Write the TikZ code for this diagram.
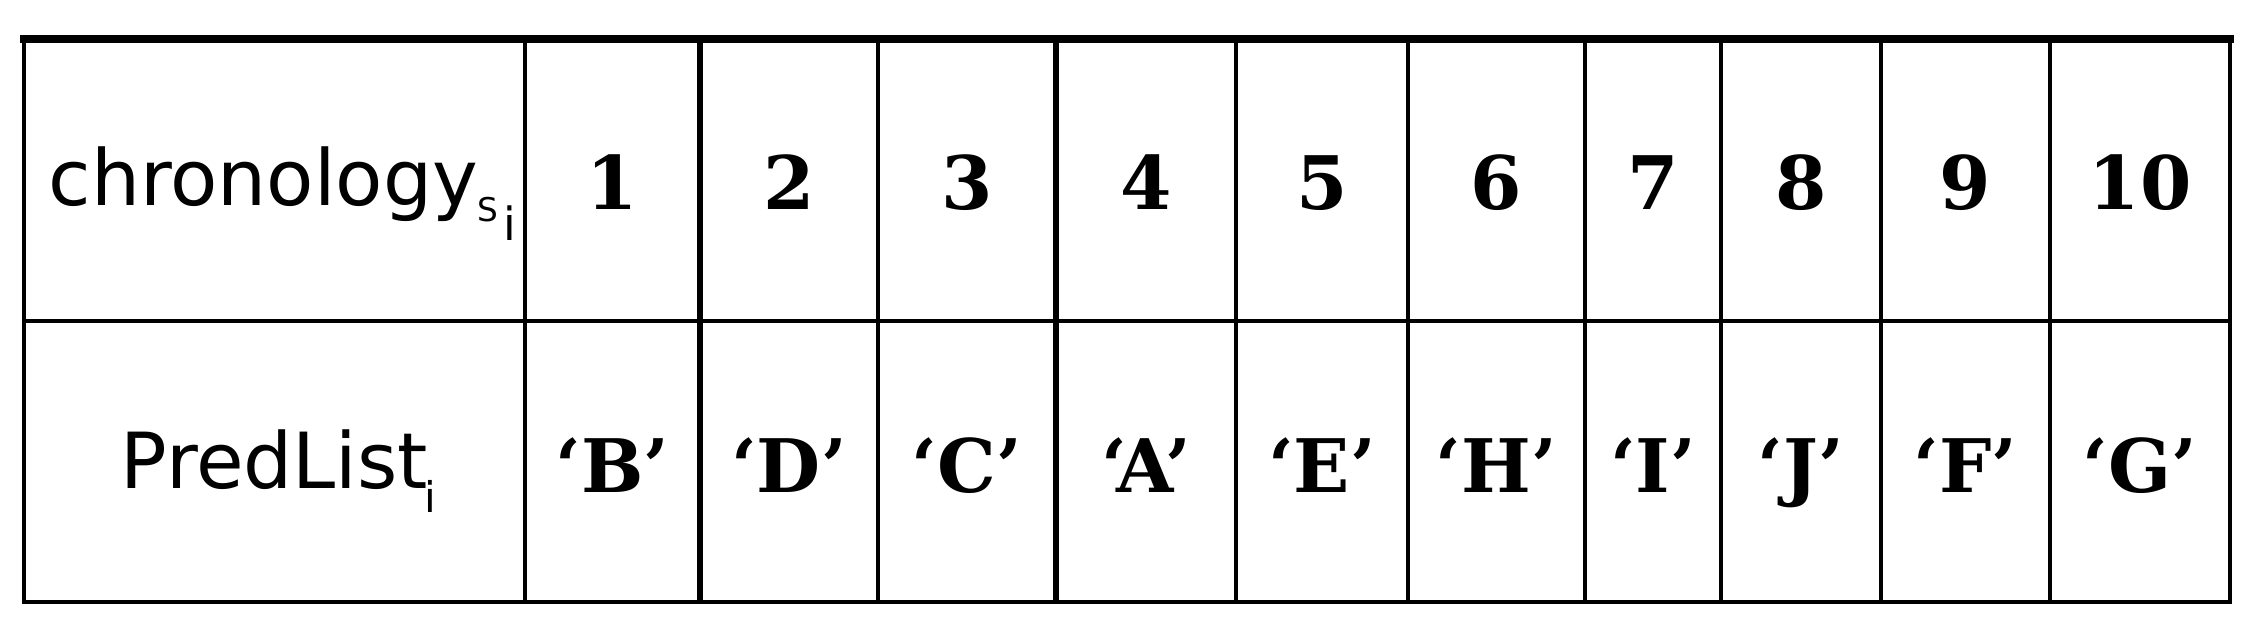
\documentclass[tikz,border=0pt]{standalone}
\usepackage{fontspec}
\setmainfont{DejaVu Sans}
\newfontfamily\cellfont{DejaVu Serif}
\begin{document}
\begin{tikzpicture}[x=0.01cm,y=-0.01cm,
  gridline/.style={line width=1.14pt, draw=black},
  sepline/.style={line width=1.7pt, draw=black},
  topline/.style={line width=2.28pt, draw=black},
  rowlabel/.style={inner sep=0pt, anchor=base west, font=\fontsize{22}{24}\selectfont},
  cellval/.style={inner sep=0pt, anchor=base, font=\cellfont\bfseries\fontsize{21}{24}\selectfont}]
\useasboundingbox (0,0) rectangle (2246,624);
% outer frame and row separator
\draw[gridline, line join=miter] (24,39) -- (24,602) -- (2230,602) -- (2230,39);
\draw[topline, line cap=rect] (24,39) -- (2230,39);
\draw[gridline] (24,321) -- (2230,321);
% column separators
\foreach \xx in {525,878,1236,1408,1585,1721,1881,2050}
  \draw[gridline] (\xx,39) -- (\xx,602);
\foreach \xx in {700,1056}
  \draw[sepline] (\xx,39) -- (\xx,602);
% row labels
\node[rowlabel] (chron) at (48,205) {chronology\raisebox{-4.8pt}{\fontsize{9.3}{10}\selectfont S}\kern1.5pt\raisebox{-10pt}{\fontsize{13}{14}\selectfont i}};
\node[rowlabel] (pred) at (120,488) {PredList\kern-1pt\raisebox{-7pt}{\fontsize{12}{13}\selectfont i}};
% values
\foreach \cx/\num/\ltr [count=\k] in {612.5/1/B,789/2/D,967/3/C,1146/4/A,1322/5/E,1496.5/6/H,1653/7/I,1801/8/J,1965.5/9/F,2140/10/G}{
  \node[cellval] (num\k) at (\cx,209) {\num};
  \node[cellval] (pred\k) at (\cx,492) {‘\ltr’};
}
\end{tikzpicture}
\end{document}
